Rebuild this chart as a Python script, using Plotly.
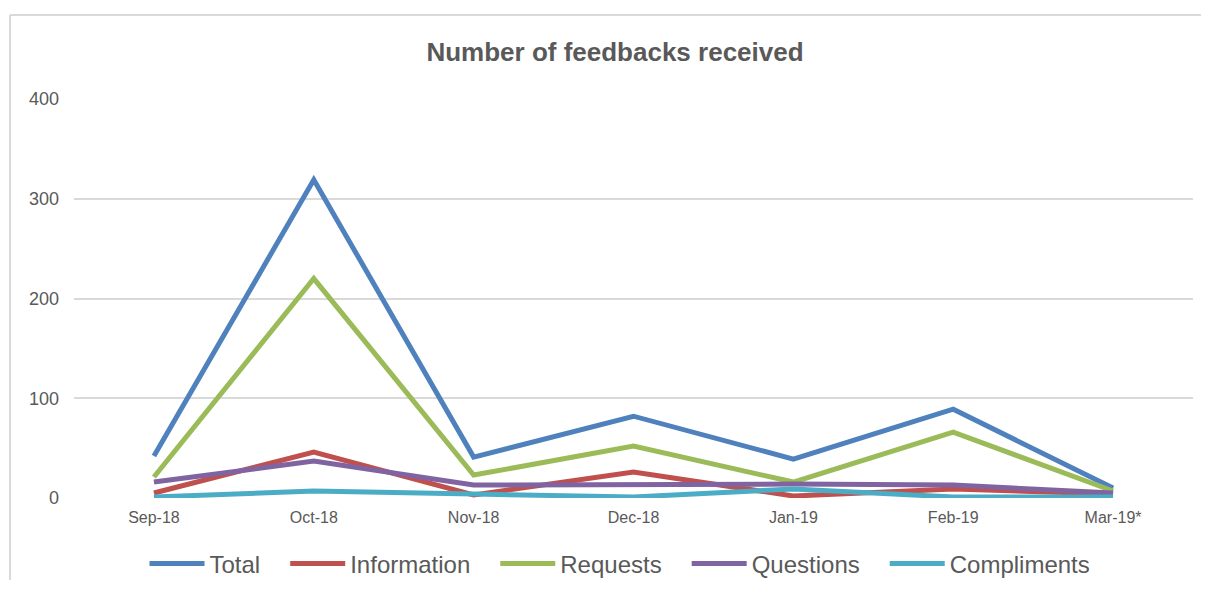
import plotly.graph_objects as go

months = ["Sep-18", "Oct-18", "Nov-18", "Dec-18", "Jan-19", "Feb-19", "Mar-19*"]
total = [42, 319, 41, 82, 39, 89, 10]
information = [5, 46, 3, 26, 2, 9, 4]
requests = [21, 220, 23, 52, 16, 66, 7]
questions = [16, 37, 13, 14, 14, 13, 5]
compliments = [1, 7, 4, 1, 9, 1, 1]

series = [
    ("Total", total, "#4F81BD"),
    ("Information", information, "#C0504D"),
    ("Requests", requests, "#9BBB59"),
    ("Questions", questions, "#8064A2"),
    ("Compliments", compliments, "#4BACC6"),
]

PAD = "\u00a0" * 3

fig = go.Figure()
for i, (name, vals, color) in enumerate(series):
    label = name + (PAD if i < len(series) - 1 else "")
    fig.add_trace(go.Scatter(x=months, y=vals, name=label, mode="lines",
                             line=dict(color=color, width=5)))

# page body has an 8px margin on every side; size the figure so the page
# fits the 1209x594 window without scrollbars
OFF = 8
W, H = 1209 - 2 * OFF, 594 - 2 * OFF - 6
L, T = 66, 91
R = W - (1193 - OFF)
B = H - (498 - OFF)
pw, ph = W - L - R, H - T - B

def px_x(px):  # window pixel -> paper x
    return (px - OFF - L) / pw

def px_y(py):  # window pixel -> paper y
    return (H - B - (py - OFF)) / ph

frame = dict(color="#D9D9D9", width=2)

fig.update_layout(
    width=W, height=H,
    margin=dict(l=L, r=R, t=T, b=B, autoexpand=False),
    paper_bgcolor="white", plot_bgcolor="white",
    font=dict(family="Liberation Sans, Arial, sans-serif", color="#595959"),
    title=dict(text="<b>Number of feedbacks received</b>", x=(615 - OFF) / W, xanchor="center",
               y=1 - (52 - OFF) / H, yanchor="middle", yref="container",
               font=dict(size=26, color="#595959")),
    xaxis=dict(type="category", range=[-0.5, 6.5], showgrid=False, zeroline=False,
               showline=False, ticks="", tickfont=dict(size=16, color="#595959"),
               ticklabelstandoff=8, automargin=False),
    yaxis=dict(range=[0, 400], tickvals=[0, 100, 200, 300, 400], showgrid=True,
               gridcolor="#D9D9D9", gridwidth=1.5, zeroline=False, showline=False,
               ticks="", tickfont=dict(size=18, color="#595959"), ticklabelstandoff=14,
               automargin=False),
    legend=dict(orientation="h", x=px_x(620), xanchor="center", y=px_y(564),
                yanchor="middle", font=dict(size=24, color="#595959"),
                itemwidth=55, tracegroupgap=0),
    showlegend=True,
    shapes=[
        dict(type="line", xref="paper", yref="paper",
             x0=px_x(10), x1=px_x(1201), y0=px_y(15), y1=px_y(15), line=frame, layer="below"),
        dict(type="line", xref="paper", yref="paper",
             x0=px_x(10), x1=px_x(10), y0=px_y(15), y1=px_y(590), line=frame, layer="below"),
    ],
)

fig.write_html("out.html")
